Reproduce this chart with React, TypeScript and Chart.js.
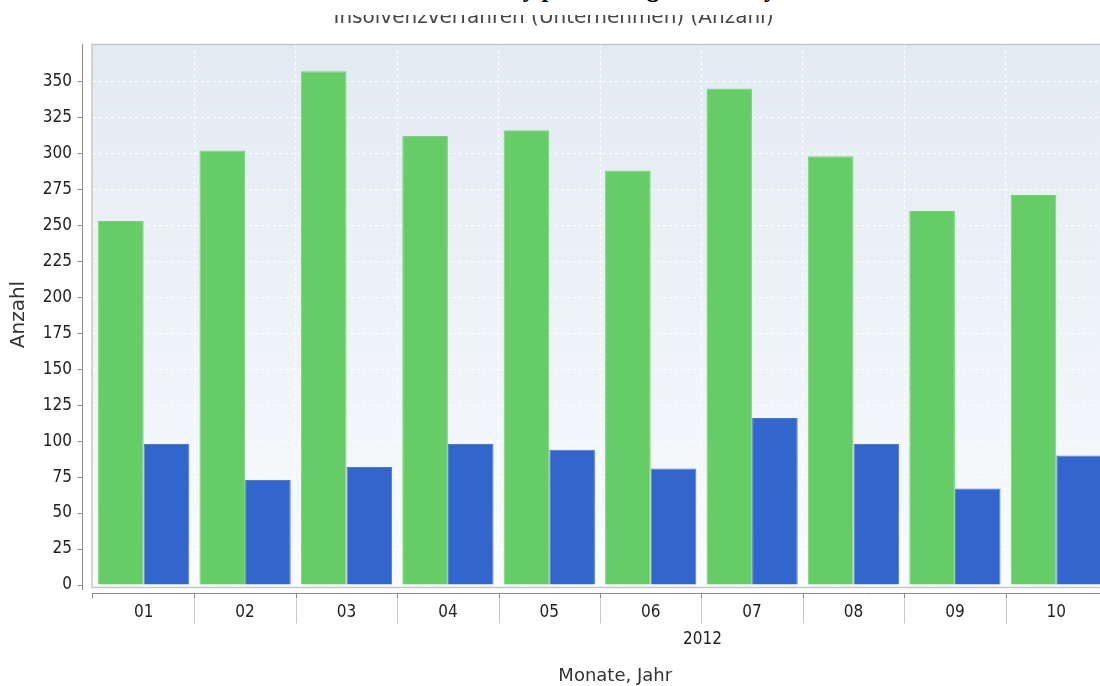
import React, { useEffect, useRef } from "react";
import { Chart, registerables } from "chart.js";

Chart.register(...registerables);

const TITLE = "Insolvency proceedings Germany";
const SUBTITLE = "Insolvenzverfahren (Unternehmen) (Anzahl)";
const MONTHS = ["01", "02", "03", "04", "05", "06", "07", "08", "09", "10"];
const YEAR_LABEL = "2012";
const SERIES_GREEN = [253, 302, 357, 312, 316, 288, 345, 298, 260, 271];
const SERIES_BLUE = [98, 73, 82, 98, 94, 81, 116, 98, 67, 90];
const Y_TITLE = "Anzahl";
const X_TITLE = "Monate, Jahr";
const Y_MAX = 376;
const Y_STEP = 25;
const Y_LAST_TICK = 350;

const CANVAS_W = 1122;
const CANVAS_H = 686;

const decorPlugin = {
  id: "decor",
  beforeDraw(chart: any) {
    const { ctx, chartArea: a } = chart;
    ctx.save();
    ctx.fillStyle = "#ffffff";
    ctx.fillRect(0, 0, chart.width, chart.height);
    const g = ctx.createLinearGradient(0, a.top, 0, a.bottom);
    g.addColorStop(0, "rgb(226,234,242)");
    g.addColorStop(1, "rgb(249,251,253)");
    ctx.fillStyle = g;
    ctx.fillRect(a.left - 1, a.top, a.right - a.left + 1, a.bottom - a.top + 2);
    ctx.restore();
  },
  afterDraw(chart: any) {
    const { ctx, chartArea: a } = chart;
    const yScale = chart.scales.y;
    const xScale = chart.scales.x;
    ctx.save();
    // plot frame
    ctx.strokeStyle = "#c6c6c6";
    ctx.lineWidth = 1.5;
    ctx.strokeRect(a.left - 1, a.top + 0.5, a.right - a.left + 20, a.bottom - a.top + 2);

    // y axis line (offset from plot)
    const ax = a.left - 10.5;
    ctx.strokeStyle = "#8a8a8a";
    ctx.lineWidth = 1;
    ctx.beginPath();
    ctx.moveTo(ax, a.top);
    ctx.lineTo(ax, a.bottom + 5);
    ctx.stroke();
    yScale.ticks.forEach((t: any) => {
      const py = Math.round(yScale.getPixelForValue(t.value)) + 0.5;
      ctx.beginPath();
      ctx.moveTo(ax - 5, py);
      ctx.lineTo(ax, py);
      ctx.stroke();
    });

    // x axis line (offset below plot)
    const ay = a.bottom + 8.5;
    ctx.beginPath();
    ctx.moveTo(a.left - 1, ay);
    ctx.lineTo(chart.width, ay);
    ctx.stroke();
    const n = MONTHS.length;
    for (let i = 0; i <= n; i++) {
      let bx;
      if (i === 0) bx = a.left - 0.5;
      else if (i === n) bx = a.right + 0.5;
      else bx = Math.round((xScale.getPixelForValue(i - 1) + xScale.getPixelForValue(i)) / 2) + 0.5;
      ctx.strokeStyle = "#8a8a8a";
      ctx.beginPath();
      ctx.moveTo(bx, ay);
      ctx.lineTo(bx, ay + 5);
      ctx.stroke();
      if (i > 0) {
        ctx.strokeStyle = "#c8c8c8";
        ctx.beginPath();
        ctx.moveTo(bx, ay + 5);
        ctx.lineTo(bx, ay + 30);
        ctx.stroke();
      }
    }

    // year label and axis title
    ctx.fillStyle = "#222";
    ctx.textAlign = "center";
    ctx.textBaseline = "middle";
    ctx.font = '17px "DejaVu Sans Condensed", "DejaVu Sans", sans-serif';
    ctx.fillText(YEAR_LABEL, a.left + 0.601 * (a.right - a.left), a.bottom + 55);
    ctx.fillStyle = "#333";
    ctx.font = '18px "DejaVu Sans", sans-serif';
    ctx.fillText(X_TITLE, a.left + 0.515 * (a.right - a.left), a.bottom + 91);
    ctx.restore();
  },
};

export default function App() {
  const ref = useRef<HTMLCanvasElement | null>(null);

  useEffect(() => {
    const canvas = ref.current;
    if (!canvas) return;
    const chart = new Chart(canvas, {
      type: "bar",
      data: {
        labels: MONTHS,
        datasets: [
          {
            label: "Reihe 1",
            data: SERIES_GREEN,
            backgroundColor: "rgb(102,204,102)",
            borderColor: "rgb(120,212,120)",
            borderWidth: 1,
            categoryPercentage: 0.9,
            barPercentage: 1.0,
          },
          {
            label: "Reihe 2",
            data: SERIES_BLUE,
            backgroundColor: "rgb(51,102,204)",
            borderColor: "rgb(75,120,210)",
            borderWidth: 1,
            categoryPercentage: 0.9,
            barPercentage: 1.0,
          },
        ],
      },
      options: {
        responsive: false,
        animation: false,
        devicePixelRatio: 1,
        layout: { padding: { left: 0, right: 15, top: 0, bottom: 61 } },
        plugins: {
          legend: { display: false },
          tooltip: { enabled: false },
          title: { display: false },
          subtitle: {
            display: true,
            text: SUBTITLE,
            color: "#444",
            font: { family: '"DejaVu Sans", sans-serif', size: 20, weight: "normal" },
            padding: { top: 6, bottom: 14 },
          },
        },
        scales: {
          x: {
            grid: {
              display: true,
              offset: true,
              drawTicks: false,
              color: "rgba(255,255,255,0.9)",
              lineWidth: 1,
            },
            border: { display: false, dash: [3, 3] },
            ticks: {
              color: "#222",
              padding: 17,
              font: { family: '"DejaVu Sans Condensed", "DejaVu Sans", sans-serif', size: 17 },
              maxRotation: 0,
            },
            afterFit(scale: any) {
              scale.height = 40;
            },
          },
          y: {
            min: 0,
            max: Y_MAX,
            afterBuildTicks(scale: any) {
              scale.ticks = scale.ticks.filter((t: any) => t.value <= Y_LAST_TICK);
            },
            grid: {
              display: true,
              drawTicks: false,
              color: "rgba(255,255,255,0.9)",
              lineWidth: 1,
            },
            border: { display: false, dash: [3, 3] },
            ticks: {
              stepSize: Y_STEP,
              includeBounds: false,
              color: "#222",
              padding: 21,
              font: { family: '"DejaVu Sans Condensed", "DejaVu Sans", sans-serif', size: 17 },
            },
            title: {
              display: true,
              text: Y_TITLE,
              color: "#333",
              font: { family: '"DejaVu Sans", sans-serif', size: 20 },
              padding: { top: 7, bottom: 0 },
            },
            afterFit(scale: any) {
              scale.width = 93;
            },
          },
        },
      },
      plugins: [decorPlugin],
    });
    return () => chart.destroy();
  }, []);

  return (
    <div
      style={{
        position: "fixed",
        left: 0,
        top: 0,
        width: 1100,
        height: 686,
        overflow: "hidden",
        background: "#fff",
      }}
    >
      <canvas
        ref={ref}
        width={CANVAS_W}
        height={CANVAS_H}
        style={{ display: "block", width: CANVAS_W, height: CANVAS_H }}
      />
      <div
        style={{
          position: "absolute",
          left: 0,
          top: 0,
          width: CANVAS_W,
          height: 15,
          overflow: "hidden",
          background: "#fff",
        }}
      >
        <div
          style={{
            position: "absolute",
            left: 0,
            top: -25,
            width: CANVAS_W,
            paddingLeft: 38,
            textAlign: "center",
            fontFamily: '"Liberation Serif", "DejaVu Serif", serif',
            fontWeight: "bold",
            fontSize: 25,
            lineHeight: "28px",
            color: "#000",
            whiteSpace: "nowrap",
          }}
        >
          {TITLE}
        </div>
      </div>
    </div>
  );
}
